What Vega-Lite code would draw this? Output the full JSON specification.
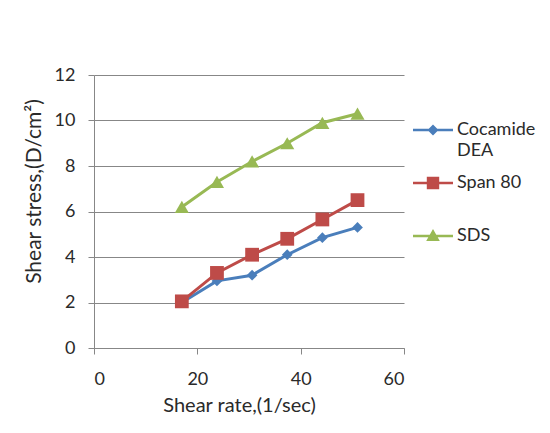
{
  "$schema": "https://vega.github.io/schema/vega-lite/v6.json",
  "width": 310,
  "height": 273,
  "autosize": "none",
  "padding": {"left": 94, "top": 75, "right": 146, "bottom": 85},
  "background": "white",
  "data": {
    "values": [
      {"series": "Cocamide DEA", "rate": 17, "stress": 2.0},
      {"series": "Cocamide DEA", "rate": 23.8, "stress": 2.95},
      {"series": "Cocamide DEA", "rate": 30.6, "stress": 3.2},
      {"series": "Cocamide DEA", "rate": 37.4, "stress": 4.1},
      {"series": "Cocamide DEA", "rate": 44.2, "stress": 4.85},
      {"series": "Cocamide DEA", "rate": 51, "stress": 5.3},
      {"series": "Span 80", "rate": 17, "stress": 2.05},
      {"series": "Span 80", "rate": 23.8, "stress": 3.3},
      {"series": "Span 80", "rate": 30.6, "stress": 4.1},
      {"series": "Span 80", "rate": 37.4, "stress": 4.8},
      {"series": "Span 80", "rate": 44.2, "stress": 5.65},
      {"series": "Span 80", "rate": 51, "stress": 6.5},
      {"series": "SDS", "rate": 17, "stress": 6.2},
      {"series": "SDS", "rate": 23.8, "stress": 7.3},
      {"series": "SDS", "rate": 30.6, "stress": 8.2},
      {"series": "SDS", "rate": 37.4, "stress": 9.0},
      {"series": "SDS", "rate": 44.2, "stress": 9.9},
      {"series": "SDS", "rate": 51, "stress": 10.3}
    ]
  },
  "encoding": {
    "x": {
      "field": "rate",
      "type": "quantitative",
      "scale": {"domain": [0, 60], "nice": false},
      "axis": {
        "title": "Shear rate,(1/sec)",
        "values": [0, 20, 40, 60],
        "grid": false,
        "tickSize": 6,
        "labelPadding": 16,
        "titlePadding": 7,
        "titleX": 145
      }
    },
    "y": {
      "field": "stress",
      "type": "quantitative",
      "scale": {"domain": [0, 12], "nice": false},
      "axis": {
        "title": "Shear stress,(D/cm²)",
        "values": [0, 2, 4, 6, 8, 10, 12],
        "grid": true,
        "tickSize": 6,
        "labelPadding": 13,
        "titlePadding": 10,
        "titleFontSize": 21,
        "titleY": 116
      }
    },
    "color": {
      "field": "series",
      "type": "nominal",
      "scale": {
        "domain": ["Cocamide DEA", "Span 80", "SDS"],
        "range": ["#4A7EBB", "#BE4B48", "#98B954"]
      },
      "legend": {
        "title": null,
        "orient": "none",
        "legendX": 329,
        "legendY": 45,
        "gridAlign": "all",
        "rowPadding": 13,
        "symbolSize": 400,
        "labelOffset": 14,
        "labelExpr": "datum.label == 'Cocamide DEA' ? ['Cocamide', 'DEA'] : datum.label",
        "encode": {
          "symbols": {
            "update": {
              "shape": {"signal": "datum.value == 'SDS' ? 'M-2,-0.12H2V0.12H-2ZM0,-0.7L0.68,0.5L-0.68,0.5Z' : datum.value == 'Span 80' ? 'M-2,-0.12H2V0.12H-2ZM-0.62,-0.62H0.62V0.62H-0.62Z' : 'M-2,-0.12H2V0.12H-2ZM0,-0.55L0.55,0L0,0.55L-0.55,0Z'"},
              "size": {"value": 400},
              "fill": {"signal": "scale('color', datum.value)"},
              "strokeWidth": {"value": 0},
              "opacity": {"value": 1}
            }
          },
          "labels": {
            "update": {"lineHeight": {"value": 21}}
          }
        }
      }
    }
  },
  "layer": [
    {
      "mark": {"type": "line", "strokeWidth": 3}
    },
    {
      "transform": [{"filter": "datum.series == 'Cocamide DEA'"}],
      "mark": {"type": "point", "shape": "diamond", "size": 115, "filled": true, "opacity": 1}
    },
    {
      "transform": [{"filter": "datum.series == 'Span 80'"}],
      "mark": {"type": "point", "shape": "square", "size": 190, "filled": true, "opacity": 1}
    },
    {
      "transform": [{"filter": "datum.series == 'SDS'"}],
      "mark": {"type": "point", "shape": "triangle-up", "size": 200, "filled": true, "opacity": 1}
    }
  ],
  "config": {
    "view": {"stroke": null},
    "font": "Lato",
    "axis": {
      "domainColor": "#878787",
      "tickColor": "#878787",
      "gridColor": "#878787",
      "gridOpacity": 1,
      "domainWidth": 1,
      "labelFont": "Lato",
      "labelFontSize": 18,
      "labelColor": "#2a2a2a",
      "titleFont": "Lato",
      "titleFontSize": 20,
      "titleFontWeight": "normal",
      "titleColor": "#2a2a2a"
    },
    "legend": {
      "labelFont": "Lato",
      "labelFontSize": 18,
      "labelColor": "#2a2a2a",
      "labelLimit": 200
    }
  }
}
